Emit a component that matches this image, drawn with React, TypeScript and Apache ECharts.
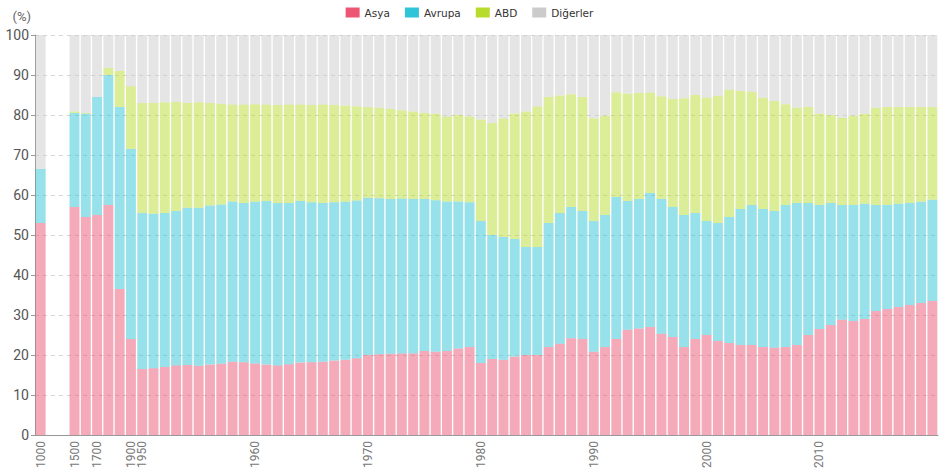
import React, { useEffect, useRef } from "react";
import * as echarts from "echarts";

const years = [
  "1000", "1200", "1400", "1500", "1600", "1700", "1820", "1870", "1900",
  "1950", "1951", "1952", "1953", "1954", "1955", "1956", "1957", "1958", "1959",
  "1960", "1961", "1962", "1963", "1964", "1965", "1966", "1967", "1968", "1969",
  "1970", "1971", "1972", "1973", "1974", "1975", "1976", "1977", "1978", "1979",
  "1980", "1981", "1982", "1983", "1984", "1985", "1986", "1987", "1988", "1989",
  "1990", "1991", "1992", "1993", "1994", "1995", "1996", "1997", "1998", "1999",
  "2000", "2001", "2002", "2003", "2004", "2005", "2006", "2007", "2008", "2009",
  "2010", "2011", "2012", "2013", "2014", "2015", "2016", "2017", "2018", "2019",
  "2020",
];

const shownLabels = ["1000", "1500", "1700", "1900", "1950", "1960", "1970", "1980", "1990", "2000", "2010"];

const asya = [
  53, null, null, 57, 54.5, 55, 57.5, 36.5, 24,
  16.5, 16.7, 17.0, 17.4, 17.5, 17.3, 17.6, 17.8, 18.3, 18.2,
  17.9, 17.6, 17.4, 17.7, 18.1, 18.2, 18.3, 18.6, 18.8, 19.2,
  20.0, 20.2, 20.3, 20.4, 20.4, 21.0, 20.8, 21.0, 21.6, 22.0,
  18.0, 19.0, 18.8, 19.6, 20.0, 20.0, 22.0, 22.8, 24.2, 24.0,
  20.8, 22.0, 24.0, 26.3, 26.6, 27.0, 25.3, 24.5, 22.0, 24.0,
  25.0, 23.5, 23.0, 22.5, 22.5, 22.0, 21.8, 22.0, 22.5, 25.0,
  26.5, 27.5, 28.8, 28.5, 29.0, 31.0, 31.5, 32.0, 32.5, 33.0,
  33.5,
];

const avrupa = [
  13.5, null, null, 23.5, 25.8, 29.5, 32.5, 45.5, 47.5,
  39.0, 38.6, 38.5, 38.6, 39.3, 39.5, 39.8, 39.8, 40.1, 39.8,
  40.4, 40.9, 40.6, 40.3, 40.4, 40.0, 39.7, 39.6, 39.5, 39.4,
  39.3, 39.0, 38.7, 38.7, 38.6, 38.0, 37.9, 37.4, 36.8, 36.2,
  35.5, 31.0, 30.7, 29.4, 27.0, 27.0, 31.0, 32.7, 32.8, 32.0,
  32.7, 33.0, 35.5, 32.2, 32.4, 33.5, 33.7, 32.5, 33.0, 31.5,
  28.5, 29.5, 31.5, 34.0, 35.0, 34.5, 34.2, 35.5, 35.5, 33.0,
  31.0, 30.5, 28.7, 29.0, 28.8, 26.5, 26.0, 25.8, 25.5, 25.3,
  25.3,
];

const abd = [
  0, null, null, 0.4, 0.2, 0, 1.8, 9, 15.7,
  27.5, 27.7, 27.7, 27.3, 26.2, 26.4, 25.6, 25.2, 24.2, 24.6,
  24.4, 24.1, 24.5, 24.6, 24.1, 24.3, 24.6, 24.3, 24.1, 23.6,
  22.7, 22.6, 22.5, 22.1, 21.9, 21.5, 21.6, 21.2, 21.6, 21.4,
  25.4, 28.0, 29.6, 31.4, 33.9, 35.1, 31.5, 29.4, 28.2, 28.5,
  25.7, 24.8, 26.2, 26.9, 26.5, 25.1, 25.7, 27.0, 29.2, 29.5,
  30.8, 31.8, 31.8, 29.5, 28.3, 27.8, 27.5, 25.2, 23.8, 24.0,
  22.8, 22.0, 21.8, 22.3, 22.5, 24.3, 24.5, 24.2, 24.0, 23.7,
  23.2,
];

const digerler = [
  33.5, null, null, 19.1, 19.5, 15.5, 8.2, 9, 12.8,
  17.0, 17.0, 16.8, 16.7, 17.0, 16.8, 17.0, 17.2, 17.4, 17.4,
  17.3, 17.4, 17.5, 17.4, 17.4, 17.5, 17.4, 17.5, 17.6, 17.8,
  18.0, 18.2, 18.5, 18.8, 19.1, 19.5, 19.7, 20.4, 20.0, 20.4,
  21.1, 22.0, 20.9, 19.6, 19.1, 17.9, 15.5, 15.1, 14.8, 15.5,
  20.8, 20.2, 14.3, 14.6, 14.5, 14.4, 15.3, 16.0, 15.8, 15.0,
  15.7, 15.2, 13.7, 14.0, 14.2, 15.7, 16.5, 17.3, 18.2, 18.0,
  19.7, 20.0, 20.7, 20.2, 19.7, 18.2, 18.0, 18.0, 18.0, 18.0,
  18.0,
];

const seriesNames = ["Asya", "Avrupa", "ABD", "Diğerler"];
const seriesColors = ["#ec5673", "#2fc4d8", "#b8dc2e", "#cbcbcb"];
const seriesData = [asya, avrupa, abd, digerler];

export default function App() {
  const ref = useRef<HTMLDivElement>(null);
  useEffect(() => {
    if (!ref.current) return;
    const chart = echarts.init(ref.current, null, { renderer: "svg" });
    const showIdx = (i: number) => shownLabels.indexOf(years[i]) >= 0;
    chart.setOption({
      animation: false,
      textStyle: { fontFamily: "Roboto, sans-serif" },
      legend: {
        top: 2,
        left: "center",
        itemWidth: 14,
        itemHeight: 10,
        itemGap: 15,
        icon: "rect",
        textStyle: { fontFamily: "DejaVu Sans, sans-serif", fontSize: 10.5, color: "#333" },
        data: seriesNames.map((n, i) => ({ name: n, itemStyle: { color: seriesColors[i], opacity: 1 } })),
      },
      grid: { left: 35, right: 1, top: 35, bottom: 40, containLabel: false },
      xAxis: {
        type: "category",
        data: years,
        axisLine: { lineStyle: { color: "#999" } },
        axisTick: { alignWithLabel: true, interval: (i: number) => showIdx(i), lineStyle: { color: "#666" } },
        axisLabel: {
          interval: (i: number) => showIdx(i),
          rotate: 90,
          color: "#777",
          fontSize: 12,
          margin: 6,
        },
      },
      yAxis: {
        type: "value",
        min: 0,
        max: 100,
        interval: 10,
        name: "(%)",
        nameGap: 12,
        nameTextStyle: { color: "#666", fontSize: 13, align: "right", padding: [0, 4, 0, 0] },
        axisLine: { show: true, lineStyle: { color: "#999" } },
        axisTick: { show: true, length: 4, lineStyle: { color: "#999" } },
        axisLabel: { color: "#555", fontSize: 14, margin: 6 },
        splitLine: { lineStyle: { color: "#d6d6d6", type: [4, 4] } },
      },
      series: seriesNames.map((n, i) => ({
        name: n,
        type: "bar",
        stack: "total",
        barCategoryGap: "12%",
        data: seriesData[i],
        itemStyle: { color: seriesColors[i], opacity: 0.5 },
        emphasis: { disabled: true },
      })),
    });
    return () => chart.dispose();
  }, []);
  return <div ref={ref} style={{ width: 939, height: 475, position: "absolute", left: 0, top: 0 }} />;
}
